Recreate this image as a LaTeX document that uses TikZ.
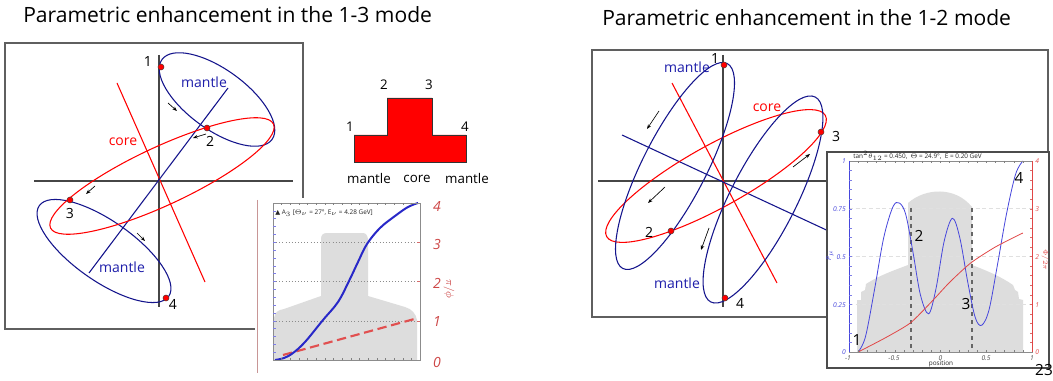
\documentclass[tikz,border=0pt]{standalone}
\usepackage{fontspec}
\setmainfont{Open Sans}
\newfontfamily\dejavu{DejaVu Sans}
\usetikzlibrary{arrows.meta}
\definecolor{mantleblue}{RGB}{20,20,140}
\definecolor{labelblue}{RGB}{30,30,170}
\definecolor{boxgray}{RGB}{95,95,95}
\definecolor{axisgray}{RGB}{70,70,70}
\definecolor{silh}{RGB}{221,221,221}
\definecolor{curveblue}{RGB}{40,40,200}
\definecolor{thinblue}{RGB}{70,70,220}
\definecolor{thinred}{RGB}{225,70,70}
\definecolor{plotred}{RGB}{205,70,70}
\definecolor{dashred}{RGB}{225,80,80}
\definecolor{faintred}{RGB}{200,150,150}
\tikzset{
  panelbox/.style={draw=boxgray, line width=1.1pt},
  axisline/.style={draw=axisgray, line width=0.8pt},
  mantleline/.style={draw=mantleblue, line width=0.8pt},
  coreline/.style={draw=red, line width=0.8pt},
  ptdot/.style={circle, fill=red, draw=black!75, line width=0.3pt, inner sep=0pt, minimum size=4.6pt},
  smallarrow/.style={-{Stealth[length=3.5pt,width=2.6pt]}, line width=0.5pt, draw=black},
  numlabel/.style={font=\fontsize{10.5}{12}\selectfont, text=black, inner sep=0pt},
  mantletext/.style={font=\fontsize{10.5}{12}\selectfont, text=labelblue, inner sep=0pt},
  coretext/.style={font=\fontsize{10.5}{12}\selectfont, text=red, inner sep=0pt},
  titletext/.style={font=\fontsize{15.8}{18}\selectfont, text=black, inner sep=0pt},
  steptext/.style={font=\fontsize{10}{12}\selectfont, text=black, inner sep=0pt},
  stepfill/.style={fill=red, draw=black!80, line width=0.6pt},
  plotframe/.style={draw=black!45, line width=0.4pt},
  tickmark/.style={draw=black!50, line width=0.3pt},
  tickblue/.style={draw=thinblue!70, line width=0.3pt},
  tickred/.style={draw=plotred!80, line width=0.3pt},
  gridline/.style={draw=black!45, line width=0.35pt, dotted},
  gridlight/.style={draw=black!12, line width=0.6pt, densely dashed},
  redaxislabel/.style={font=\fontsize{10.5}{12}\selectfont\itshape, text=plotred, inner sep=0pt},
  tinytext/.style={font=\fontsize{4.8}{6}\selectfont, text=black!85, inner sep=0pt},
  tinyblue/.style={font=\fontsize{5}{6}\selectfont\itshape, text=thinblue, inner sep=0pt},
  tinyred/.style={font=\fontsize{5}{6}\selectfont\itshape, text=thinred, inner sep=0pt},
  insetnum/.style={font=\fontsize{11.5}{12}\selectfont, text=black, inner sep=0pt}
}
\begin{document}
\begin{tikzpicture}[x=0.75pt,y=0.75pt]
\useasboundingbox (0,0) rectangle (1053,-381);
\fill[white] (0,0) rectangle (1053,-381);

% ---------------- titles
\node[titletext, anchor=west] (title1) at (23,-15) {Parametric enhancement in the 1-3 mode};
\node[titletext, anchor=west] (title2) at (602,-18) {Parametric enhancement in the 1-2 mode};

% ---------------- left panel (1-3 mode)
\draw[panelbox] (5,-43) rectangle (303,-329);
\draw[axisline] (159,-55) -- (159,-307);
\draw[axisline] (34,-181) -- (293,-181);
\draw[coreline] (117,-83) -- (205,-282);
\draw[mantleline] (228,-88) -- (89,-273);
\draw[mantleline, rotate around={-36:(217,-99.5)}] (217,-99.5) ellipse [x radius=68, y radius=30];
\draw[mantleline, rotate around={-35:(104,-251)}] (104,-251) ellipse [x radius=79, y radius=30];
\draw[coreline, rotate around={25:(162,-176)}] (162,-176) ellipse [x radius=123, y radius=29];

\node[ptdot] (a1) at (161,-67) {};
\node[ptdot] (a2) at (207,-128) {};
\node[ptdot] (a3) at (70,-200) {};
\node[ptdot] (a4) at (166,-298) {};
\node[numlabel] (la1) at (148,-62) {1};
\node[numlabel] (la2) at (210,-141) {2};
\node[numlabel] (la3) at (70,-213) {3};
\node[numlabel] (la4) at (173,-304) {4};

\coordinate (ar1s) at (168,-103); \coordinate (ar1e) at (177,-111);
\coordinate (ar2s) at (206,-134); \coordinate (ar2e) at (193,-138);
\coordinate (ar3s) at (95,-186);  \coordinate (ar3e) at (86,-194);
\coordinate (ar4s) at (137,-233); \coordinate (ar4e) at (145,-241);
\draw[smallarrow] (ar1s) -- (ar1e);
\draw[smallarrow] (ar2s) -- (ar2e);
\draw[smallarrow] (ar3s) -- (ar3e);
\draw[smallarrow] (ar4s) -- (ar4e);

\node[mantletext] (m1) at (204,-82) {mantle};
\node[coretext] (c1) at (123,-142) {core};
\node[mantletext] (m2) at (122,-267) {mantle};

% ---------------- step profile
\draw[stepfill] (354,-162) -- (354,-135) -- (387,-135) -- (387,-98) -- (432,-98) -- (432,-135) -- (466,-135) -- (466,-162) -- cycle;
\node[steptext] (s1) at (350,-127) {1};
\node[steptext] (s2) at (384,-85) {2};
\node[steptext] (s3) at (429,-85) {3};
\node[steptext] (s4) at (465,-127) {4};
\node[steptext] (sm1) at (369,-179) {mantle};
\node[steptext] (sc) at (417,-179) {core};
\node[steptext] (sm2) at (467,-179) {mantle};

% ---------------- inset 1
\fill[white] (255,-198) rectangle (447,-378);
\draw[draw=faintred, line width=0.6pt] (257,-200) -- (257,-373);
\fill[silh] (274,-360) -- (274,-318) .. controls (275,-312) and (278,-310) .. (284,-309) -- (321,-296) -- (321,-239) .. controls (321,-235) and (323,-233) .. (327,-233) -- (363,-233) .. controls (366,-233) and (368,-236) .. (368,-240) -- (368,-296) -- (405,-307) .. controls (412,-309) and (416,-314) .. (417,-320) -- (417,-360) -- cycle;
\foreach \g in {1,2,3} { \draw[gridline] (273,{-360+\g*39.25}) -- (420,{-360+\g*39.25}); }
\draw[dashred, line width=1.6pt, dash pattern=on 7pt off 3.5pt] (283,-355) -- (418,-318);
\draw[curveblue, line width=1.5pt] plot[smooth, tension=0.6] coordinates {(275,-360) (284,-358) (293,-353) (305,-342) (323,-320) (338,-302) (349,-281) (358,-262) (367,-244) (380,-228) (395,-216) (408,-207) (418,-203)};
\draw[plotframe] (273,-203) rectangle (420,-360);
\foreach \i in {1,...,16} { \draw[tickmark] ({273+\i*8.65},-203) -- ++(0,-2.5); \draw[tickmark] ({273+\i*8.65},-360) -- ++(0,2.5); }
\foreach \j in {1,...,19} { \draw[tickblue] (273,{-360+\j*7.85}) -- ++(2.5,0); }
\foreach \j in {1,...,3} { \draw[tickred] (420,{-360+\j*39.25}) -- ++(-3,0); }
\node[tinytext, anchor=west] (it1) at (275,-213) {{\dejavu ▲} A$_3$ [$\Theta_\nu$ = 27°, E$_\nu$ = 4.28 GeV]};
\node[redaxislabel] (r4) at (437,-206) {4};
\node[redaxislabel] (r3) at (437,-244) {3};
\node[redaxislabel] (r2) at (437,-283) {2};
\node[redaxislabel] (r1) at (437,-322) {1};
\node[redaxislabel] (r0) at (437,-362) {0};
\node[font=\fontsize{8}{9}\selectfont, text=plotred, rotate=-90, inner sep=0pt] (rphi) at (449,-289) {$\pi/\phi$};

% ---------------- right panel (1-2 mode)
\draw[panelbox] (592,-50) rectangle (1048,-317);
\draw[axisline] (723,-55) -- (723,-307);
\draw[axisline] (598,-181) -- (827,-181);
\draw[coreline] (672,-83) -- (777,-283);
\draw[mantleline] (622,-135) -- (835,-234);
\draw[coreline, rotate around={29:(716,-176)}] (716,-176) ellipse [x radius=125, y radius=31];
\draw[mantleline, rotate around={63:(675,-166)}] (675,-166) ellipse [x radius=115, y radius=32];
\draw[mantleline, rotate around={63:(763,-199.5)}] (763,-199.5) ellipse [x radius=115, y radius=33];

\node[ptdot] (b1) at (724,-65) {};
\node[ptdot] (b2) at (671,-231) {};
\node[ptdot] (b3) at (821,-132) {};
\node[ptdot] (b4) at (725,-298) {};
\node[numlabel] (lb1) at (715,-59) {1};
\node[numlabel] (lb2) at (649,-232) {2};
\node[numlabel] (lb3) at (836,-137) {3};
\node[numlabel] (lb4) at (740,-303) {4};

\coordinate (br1s) at (659,-111); \coordinate (br1e) at (647,-129);
\coordinate (br2s) at (665,-187); \coordinate (br2e) at (648,-203);
\coordinate (br3s) at (709,-228); \coordinate (br3e) at (701,-250);
\coordinate (br4s) at (793,-167); \coordinate (br4e) at (810,-154);
\draw[smallarrow] (br1s) -- (br1e);
\draw[smallarrow] (br2s) -- (br2e);
\draw[smallarrow] (br3s) -- (br3e);
\draw[smallarrow] (br4s) -- (br4e);

\node[mantletext] (m3) at (687,-67) {mantle};
\node[coretext] (c2) at (767,-108) {core};
\node[mantletext] (m4) at (677,-283) {mantle};

% ---------------- inset 2
\fill[white] (827,-152) rectangle (1049,-368);
\draw[draw=black!70, line width=0.8pt] (827,-152) rectangle (1049,-368);
\fill[silh] (857,-352) -- (857,-300) -- (861,-300) -- (861,-292) -- (865,-290) -- (866,-284) .. controls (880,-275) and (895,-270) .. (908,-265) -- (908,-203) .. controls (925,-188) and (955,-186) .. (972,-207) -- (972,-265) .. controls (985,-270) and (1000,-276) .. (1013,-285) -- (1015,-290) -- (1018,-292) -- (1019,-299) -- (1023,-300) -- (1023,-352) -- cycle;
\foreach \g in {0.25,0.5,0.75} { \draw[gridlight] (849,{-352+191*\g}) -- (1032,{-352+191*\g}); }
\draw[draw=black!60, line width=0.8pt, dashed] (911,-208) -- (911,-352);
\draw[draw=black!60, line width=0.8pt, dashed] (972,-208) -- (972,-352);
\begin{scope}[shift={(940.5,-352)}, x=68.625pt, y=143.25pt]
\draw[thinblue, line width=0.6pt] plot[smooth, tension=0.55] coordinates {(-0.9,0) (-0.82,0.08) (-0.72,0.33) (-0.62,0.6) (-0.52,0.76) (-0.45,0.78) (-0.38,0.72) (-0.3,0.52) (-0.22,0.3) (-0.13,0.2) (-0.05,0.33) (0.04,0.58) (0.13,0.7) (0.21,0.6) (0.3,0.36) (0.38,0.18) (0.45,0.14) (0.53,0.22) (0.62,0.45) (0.72,0.72) (0.82,0.93) (0.9,1.0)};
\draw[thinred, line width=0.6pt] plot[smooth, tension=0.4] coordinates {(-0.9,0) (-0.6,0.075) (-0.33,0.152) (-0.1,0.262) (0.1,0.365) (0.33,0.466) (0.6,0.55) (0.9,0.623)};
\end{scope}
\draw[plotframe] (849,-161) rectangle (1032,-352);
\draw[draw=thinblue, line width=0.4pt] (849,-161) -- (849,-352);
\draw[draw=thinred, line width=0.4pt] (1032,-161) -- (1032,-352);
\foreach \i in {1,...,19} { \draw[tickmark] ({849+\i*9.15},-352) -- ++(0,2.5); \draw[tickmark] ({849+\i*9.15},-161) -- ++(0,-2.5); }
\foreach \j in {1,...,19} { \draw[tickblue] (849,{-352+\j*9.55}) -- ++(2.5,0); \draw[tickred] (1032,{-352+\j*9.55}) -- ++(-2.5,0); }
\node[tinytext, anchor=west] (it2) at (853,-156) {tan$^2\theta_{12}$ = 0.450,\ \ $\Theta$ = 24.9°,\ \ E = 0.20 GeV};
\node[tinyblue, anchor=east] (pl1) at (846,-161) {1};
\node[tinyblue, anchor=east] (pl2) at (846,-209) {0.75};
\node[tinyblue, anchor=east] (pl3) at (846,-257) {0.5};
\node[tinyblue, anchor=east] (pl4) at (846,-305) {0.25};
\node[tinyblue, anchor=east] (pl5) at (846,-352) {0};
\node[tinyblue, rotate=90] (plab) at (830,-255) {P$_{\mu}$};
\node[tinyred, anchor=west] (pr1) at (1035,-161) {4};
\node[tinyred, anchor=west] (pr2) at (1035,-209) {3};
\node[tinyred, anchor=west] (pr3) at (1035,-257) {2};
\node[tinyred, anchor=west] (pr4) at (1035,-305) {1};
\node[tinyred, anchor=west] (pr5) at (1035,-352) {0};
\node[tinyred, rotate=-90] (prlab) at (1045,-260) {$\Phi/2\pi$};
\node[tinyblue, text=black!70] (px1) at (848,-358) {-1};
\node[tinyblue, text=black!70] (px2) at (894,-358) {-0.5};
\node[tinyblue, text=black!70] (px3) at (940.5,-358) {0};
\node[tinyblue, text=black!70] (px4) at (986,-358) {0.5};
\node[tinyblue, text=black!70] (px5) at (1032,-358) {1};
\node[tinytext] (pxlab) at (941,-364) {position};
\node[insetnum] (n1) at (857,-340) {1};
\node[insetnum] (n2) at (919,-236) {2};
\node[insetnum] (n3) at (966,-304) {3};
\node[insetnum] (n4) at (1019,-178) {4};

\node[font=\fontsize{11.5}{12}\selectfont, inner sep=0pt] (pagenum) at (1044,-370) {23};
\end{tikzpicture}
\end{document}
